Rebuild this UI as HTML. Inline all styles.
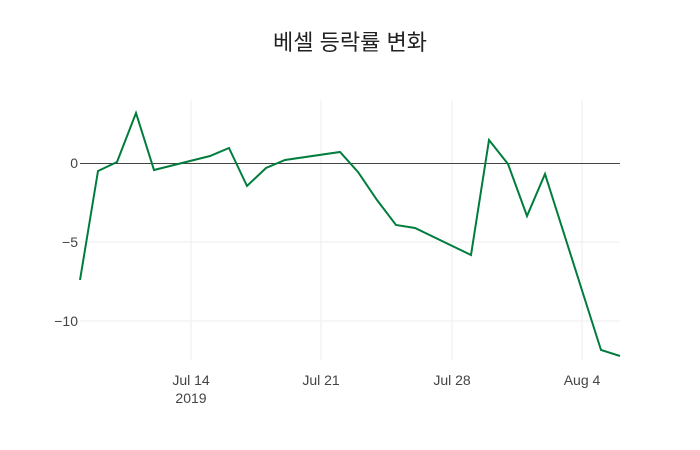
<!DOCTYPE html>
<html><head><meta charset="utf-8"><style>
body{margin:0;background:#fff;}
svg{display:block;font-family:"Liberation Sans","Noto Sans CJK KR",sans-serif;}
</style></head><body>
<svg width="700" height="450" viewBox="0 0 700 450">
<rect width="700" height="450" fill="#fff"/>
<g stroke="#eeeeee" stroke-width="1">
<line x1="191" y1="100" x2="191" y2="360"/>
<line x1="321" y1="100" x2="321" y2="360"/>
<line x1="452" y1="100" x2="452" y2="360"/>
<line x1="582" y1="100" x2="582" y2="360"/>
<line x1="80" y1="242" x2="620" y2="242"/>
<line x1="80" y1="321" x2="620" y2="321"/>
</g>
<line x1="80" y1="163.5" x2="620" y2="163.5" stroke="#444" stroke-width="1"/>
<polyline fill="none" stroke="#007d3c" stroke-width="2" points="80,280 98,171 117,162 136,113 154,170 210,156 229,148 247,186 266,168 285,160 340,152 358,172 377,200 396,225 415,228 471,255 489,140 508,164 527,216 545,174 601,350 620,356"/>
<g font-size="14" fill="#444" text-anchor="end">
<text x="78" y="168">0</text>
<text x="78" y="247">−5</text>
<text x="78" y="326">−10</text>
</g>
<g font-size="14" fill="#444" text-anchor="middle">
<text x="191" y="385">Jul 14</text>
<text x="191" y="403">2019</text>
<text x="321" y="385">Jul 21</text>
<text x="452" y="385">Jul 28</text>
<text x="582" y="385">Aug 4</text>
</g>
<text x="350" y="50" font-size="22" fill="#222" text-anchor="middle">베셀 등락률 변화</text>
</svg>
</body></html>
